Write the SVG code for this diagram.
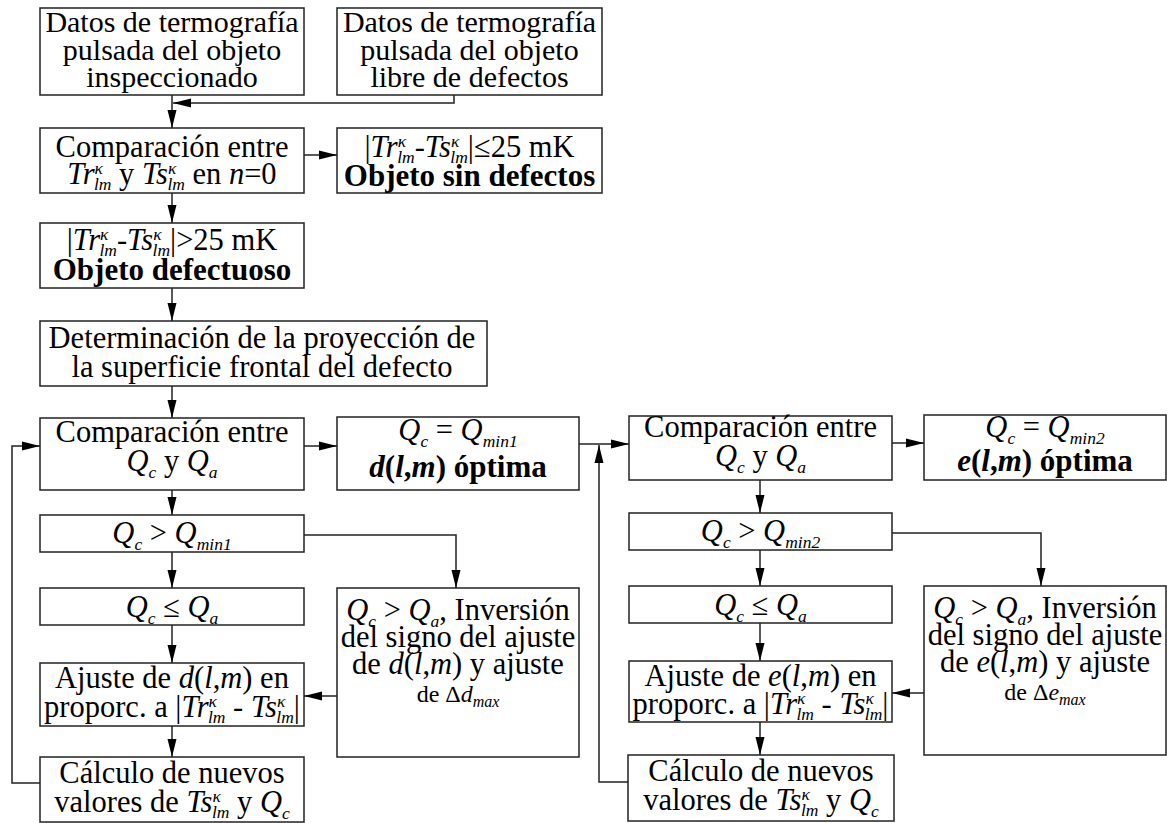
<svg xmlns="http://www.w3.org/2000/svg" width="1167" height="823" viewBox="0 0 1167 823">
<style>
rect.b{fill:#fff;stroke:#222;stroke-width:1.5}
text{font-family:"Liberation Serif","Times New Roman",serif;font-size:30.5px;text-anchor:middle;fill:#000}
.t30{font-size:30px}
.i{font-style:italic}
.s{font-size:17.5px}
.m{font-size:24px}
.ss{font-size:16px}
.bd{font-weight:bold;font-size:31px}
.c{fill:none;stroke:#222;stroke-width:1.5}
</style>
<defs>
<marker id="ah" markerUnits="userSpaceOnUse" markerWidth="18" markerHeight="10" refX="18" refY="5" orient="auto"><path d="M0,0.5 L18,5 L0,9.5 z" fill="#000"/></marker>
</defs>
<rect width="1167" height="823" fill="#fff"/>
<g id="connectors">
<path class="c" d="M454,95 V103 H173" marker-end="url(#ah)"/>
<path class="c" d="M172,95 V128" marker-end="url(#ah)"/>
<path class="c" d="M304,155 H337" marker-end="url(#ah)"/>
<path class="c" d="M172,193 V223" marker-end="url(#ah)"/>
<path class="c" d="M172,288 V321" marker-end="url(#ah)"/>
<path class="c" d="M172,386 V418" marker-end="url(#ah)"/>
<path class="c" d="M304,446 H337" marker-end="url(#ah)"/>
<path class="c" d="M172,490 V515" marker-end="url(#ah)"/>
<path class="c" d="M172,552 V588" marker-end="url(#ah)"/>
<path class="c" d="M304,535 H456 V588" marker-end="url(#ah)"/>
<path class="c" d="M172,625 V663" marker-end="url(#ah)"/>
<path class="c" d="M337,696 H304" marker-end="url(#ah)"/>
<path class="c" d="M172,726 V757" marker-end="url(#ah)"/>
<path class="c" d="M40,783 H12 V446 H40" marker-end="url(#ah)"/>
<path class="c" d="M579,444 H629" marker-end="url(#ah)"/>
<path class="c" d="M628,782 H599 V445" marker-end="url(#ah)"/>
<path class="c" d="M892,443 H924" marker-end="url(#ah)"/>
<path class="c" d="M760,480 V513" marker-end="url(#ah)"/>
<path class="c" d="M760,550 V586" marker-end="url(#ah)"/>
<path class="c" d="M892,533 H1041 V586" marker-end="url(#ah)"/>
<path class="c" d="M760,623 V661" marker-end="url(#ah)"/>
<path class="c" d="M924,693 H892" marker-end="url(#ah)"/>
<path class="c" d="M760,722 V755" marker-end="url(#ah)"/>
</g>
<g id="n1"><rect class="b" x="40" y="8" width="264" height="87"/>
<text class="t30" x="172" y="32">Datos de termografía</text><text class="t30" x="172" y="60">pulsada del objeto</text><text class="t30" x="172" y="87">inspeccionado</text></g>
<g id="n2"><rect class="b" x="337" y="8" width="265" height="87"/>
<text class="t30" x="469.5" y="32">Datos de termografía</text><text class="t30" x="469.5" y="60">pulsada del objeto</text><text class="t30" x="469.5" y="87">libre de defectos</text></g>
<g id="n3"><rect class="b" x="40" y="128" width="264" height="65"/>
<text x="172" y="157">Comparación entre</text>
<text x="172" y="184"><tspan class="i">Tr</tspan><tspan class="s i" dy="-10">κ</tspan><tspan class="s i" dx="-9" dy="16">lm</tspan><tspan dy="-6"> y </tspan><tspan class="i">Ts</tspan><tspan class="s i" dy="-10">κ</tspan><tspan class="s i" dx="-9" dy="16">lm</tspan><tspan dy="-6"> en </tspan><tspan class="i">n</tspan>=0</text></g>
<g id="n4"><rect class="b" x="337" y="128" width="265" height="65"/>
<text x="469.5" y="157">|<tspan class="i">Tr</tspan><tspan class="s i" dy="-10">κ</tspan><tspan class="s i" dx="-9" dy="16">lm</tspan><tspan dy="-6">-</tspan><tspan class="i">Ts</tspan><tspan class="s i" dy="-10">κ</tspan><tspan class="s i" dx="-9" dy="16">lm</tspan><tspan dy="-6">|≤25 mK</tspan></text>
<text x="469.5" y="186" class="bd">Objeto sin defectos</text></g>
<g id="n5"><rect class="b" x="40" y="223" width="264" height="65"/>
<text x="172" y="250">|<tspan class="i">Tr</tspan><tspan class="s i" dy="-10">κ</tspan><tspan class="s i" dx="-9" dy="16">lm</tspan><tspan dy="-6">-</tspan><tspan class="i">Ts</tspan><tspan class="s i" dy="-10">κ</tspan><tspan class="s i" dx="-9" dy="16">lm</tspan><tspan dy="-6">|&gt;25 mK</tspan></text>
<text x="172" y="280" class="bd">Objeto defectuoso</text></g>
<g id="n6"><rect class="b" x="40" y="321" width="447" height="65"/>
<text x="262" y="348">Determinación de la proyección de</text><text x="262" y="377">la superficie frontal del defecto</text></g>
<g id="n7"><rect class="b" x="40" y="418" width="264" height="72"/>
<text x="172" y="442">Comparación entre</text>
<text x="172" y="471"><tspan class="i">Q</tspan><tspan class="s i" dy="7">c</tspan><tspan dy="-7"> y </tspan><tspan class="i">Q</tspan><tspan class="s i" dy="7">a</tspan></text></g>
<g id="n8"><rect class="b" x="337" y="417" width="242" height="73"/>
<text x="458" y="440"><tspan class="i">Q</tspan><tspan class="s i" dy="7">c</tspan><tspan dy="-7"> = </tspan><tspan class="i">Q</tspan><tspan class="s i" dy="7">min1</tspan></text>
<text x="458" y="477" class="bd"><tspan class="i">d</tspan>(<tspan class="i">l</tspan>,<tspan class="i">m</tspan>) óptima</text></g>
<g id="n9"><rect class="b" x="40" y="515" width="264" height="37"/>
<text x="172" y="543"><tspan class="i">Q</tspan><tspan class="s i" dy="7">c</tspan><tspan dy="-7"> &gt; </tspan><tspan class="i">Q</tspan><tspan class="s i" dy="7">min1</tspan></text></g>
<g id="n10"><rect class="b" x="40" y="588" width="264" height="37"/>
<text x="172" y="617"><tspan class="i">Q</tspan><tspan class="s i" dy="7">c</tspan><tspan dy="-7"> ≤ </tspan><tspan class="i">Q</tspan><tspan class="s i" dy="7">a</tspan></text></g>
<g id="n11"><rect class="b" x="337" y="588" width="242" height="169"/>
<text x="458" y="620"><tspan class="i">Q</tspan><tspan class="s i" dy="7">c</tspan><tspan dy="-7"> &gt; </tspan><tspan class="i">Q</tspan><tspan class="s i" dy="7">a</tspan><tspan dy="-7">, Inversión</tspan></text>
<text x="458" y="647">del signo del ajuste</text>
<text x="458" y="674">de <tspan class="i">d</tspan>(<tspan class="i">l</tspan>,<tspan class="i">m</tspan>) y ajuste</text>
<text x="458" y="702" class="m">de Δ<tspan class="i">d</tspan><tspan class="ss i" dy="5">max</tspan></text></g>
<g id="n12"><rect class="b" x="40" y="663" width="264" height="63"/>
<text x="172" y="688">Ajuste de <tspan class="i">d</tspan>(<tspan class="i">l</tspan>,<tspan class="i">m</tspan>) en</text>
<text x="172" y="717">proporc. a |<tspan class="i">Tr</tspan><tspan class="s i" dy="-10">κ</tspan><tspan class="s i" dx="-9" dy="16">lm</tspan><tspan dy="-6"> - </tspan><tspan class="i">Ts</tspan><tspan class="s i" dy="-10">κ</tspan><tspan class="s i" dx="-9" dy="16">lm</tspan><tspan dy="-6">|</tspan></text></g>
<g id="n13"><rect class="b" x="40" y="757" width="264" height="65"/>
<text x="172" y="783">Cálculo de nuevos</text>
<text x="172" y="812">valores de <tspan class="i">Ts</tspan><tspan class="s i" dy="-10">κ</tspan><tspan class="s i" dx="-9" dy="16">lm</tspan><tspan dy="-6"> y </tspan><tspan class="i">Q</tspan><tspan class="s i" dy="7">c</tspan></text></g>
<g id="n14"><rect class="b" x="629" y="416" width="263" height="64"/>
<text x="760.5" y="437">Comparación entre</text>
<text x="760.5" y="466"><tspan class="i">Q</tspan><tspan class="s i" dy="7">c</tspan><tspan dy="-7"> y </tspan><tspan class="i">Q</tspan><tspan class="s i" dy="7">a</tspan></text></g>
<g id="n15"><rect class="b" x="924" y="415" width="242" height="65"/>
<text x="1045" y="437"><tspan class="i">Q</tspan><tspan class="s i" dy="7">c</tspan><tspan dy="-7"> = </tspan><tspan class="i">Q</tspan><tspan class="s i" dy="7">min2</tspan></text>
<text x="1045" y="471" class="bd"><tspan class="i">e</tspan>(<tspan class="i">l</tspan>,<tspan class="i">m</tspan>) óptima</text></g>
<g id="n16"><rect class="b" x="629" y="513" width="263" height="37"/>
<text x="760.5" y="541"><tspan class="i">Q</tspan><tspan class="s i" dy="7">c</tspan><tspan dy="-7"> &gt; </tspan><tspan class="i">Q</tspan><tspan class="s i" dy="7">min2</tspan></text></g>
<g id="n17"><rect class="b" x="629" y="586" width="263" height="37"/>
<text x="760.5" y="615"><tspan class="i">Q</tspan><tspan class="s i" dy="7">c</tspan><tspan dy="-7"> ≤ </tspan><tspan class="i">Q</tspan><tspan class="s i" dy="7">a</tspan></text></g>
<g id="n18"><rect class="b" x="924" y="586" width="242" height="169"/>
<text x="1045" y="618"><tspan class="i">Q</tspan><tspan class="s i" dy="7">c</tspan><tspan dy="-7"> &gt; </tspan><tspan class="i">Q</tspan><tspan class="s i" dy="7">a</tspan><tspan dy="-7">, Inversión</tspan></text>
<text x="1045" y="645">del signo del ajuste</text>
<text x="1045" y="672">de <tspan class="i">e</tspan>(<tspan class="i">l</tspan>,<tspan class="i">m</tspan>) y ajuste</text>
<text x="1045" y="700" class="m">de Δ<tspan class="i">e</tspan><tspan class="ss i" dy="5">max</tspan></text></g>
<g id="n19"><rect class="b" x="629" y="661" width="263" height="61"/>
<text x="760.5" y="686">Ajuste de <tspan class="i">e</tspan>(<tspan class="i">l</tspan>,<tspan class="i">m</tspan>) en</text>
<text x="760.5" y="714">proporc. a |<tspan class="i">Tr</tspan><tspan class="s i" dy="-10">κ</tspan><tspan class="s i" dx="-9" dy="16">lm</tspan><tspan dy="-6"> - </tspan><tspan class="i">Ts</tspan><tspan class="s i" dy="-10">κ</tspan><tspan class="s i" dx="-9" dy="16">lm</tspan><tspan dy="-6">|</tspan></text></g>
<g id="n20"><rect class="b" x="628" y="755" width="266" height="66"/>
<text x="761" y="781">Cálculo de nuevos</text>
<text x="761" y="810">valores de <tspan class="i">Ts</tspan><tspan class="s i" dy="-10">κ</tspan><tspan class="s i" dx="-9" dy="16">lm</tspan><tspan dy="-6"> y </tspan><tspan class="i">Q</tspan><tspan class="s i" dy="7">c</tspan></text></g>
</svg>
